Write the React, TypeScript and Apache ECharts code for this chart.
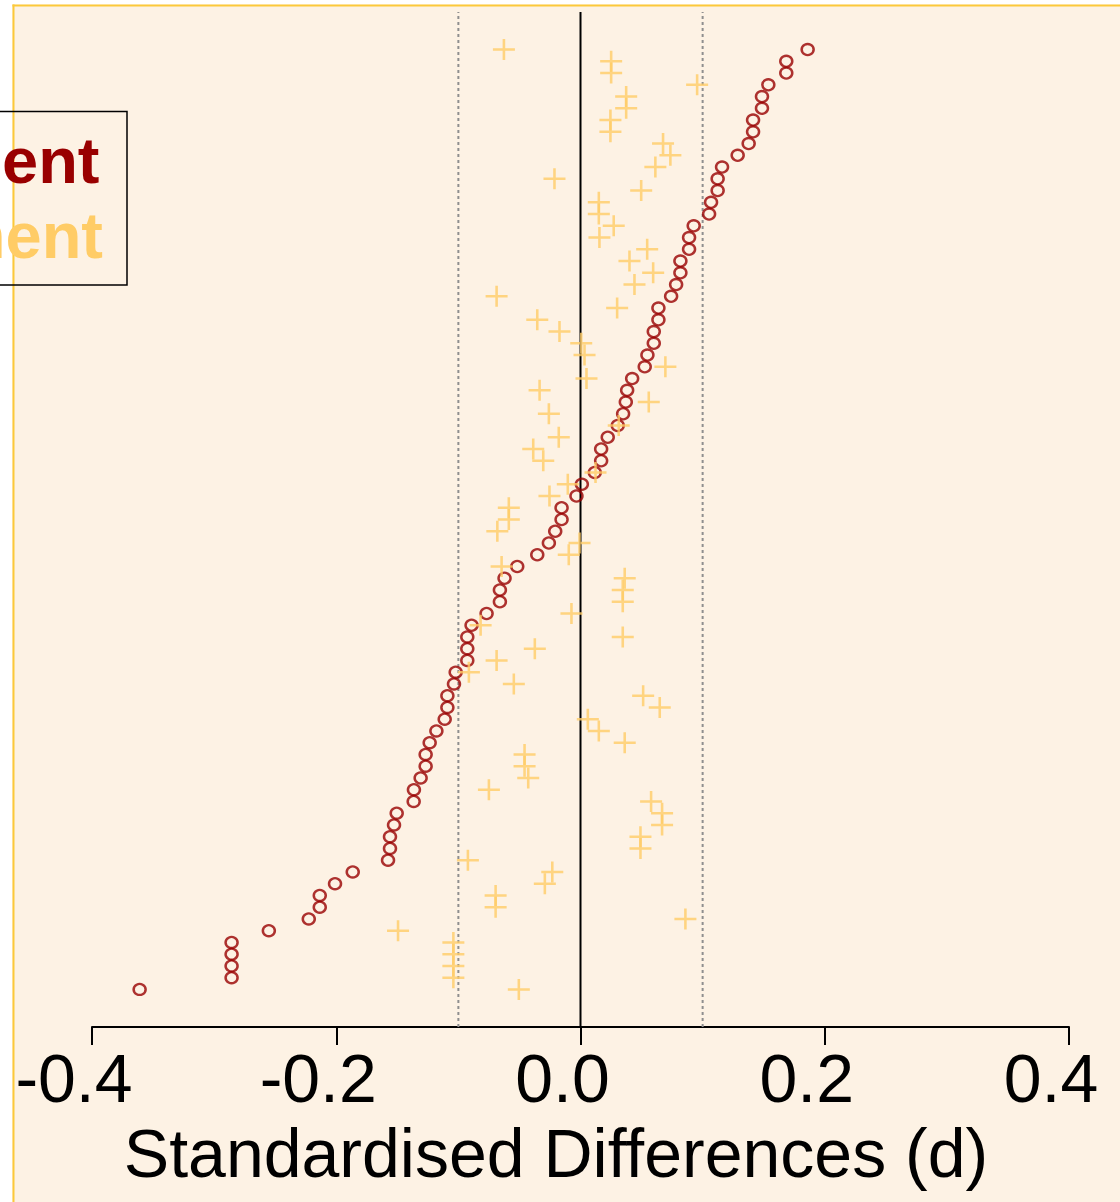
import React, { useEffect, useRef } from "react";
import * as echarts from "echarts";

// Standardised differences, one row per covariate (top row first), sorted by the unadjusted value
const unadjusted: number[] = [
  0.186, 0.1685, 0.1685, 0.1538, 0.1486, 0.1486, 0.1413, 0.1413, 0.1377, 0.1287,
  0.1159, 0.1123, 0.1123, 0.1069, 0.1053, 0.0927, 0.0889, 0.0889, 0.0818, 0.0818,
  0.0783, 0.0742, 0.0638, 0.0638, 0.06, 0.06, 0.0548, 0.0526, 0.0423, 0.0382,
  0.0371, 0.0349, 0.0305, 0.0223, 0.0169, 0.0169, 0.0117, 0.0011, -0.0033, -0.0155,
  -0.0155, -0.0207, -0.0259, -0.0354, -0.0518, -0.0622, -0.066, -0.066, -0.0769, -0.0892,
  -0.0927, -0.0927, -0.0927, -0.1022, -0.1036, -0.109, -0.109, -0.1112, -0.118, -0.1235,
  -0.1268, -0.1268, -0.1309, -0.1364, -0.1366, -0.1505, -0.1527, -0.156, -0.156, -0.1576,
  -0.1865, -0.201, -0.2135, -0.2135, -0.2225, -0.2552, -0.2857, -0.2857, -0.2857, -0.2857,
  -0.361,
];

const adjusted: number[] = [
  -0.0627, 0.0251, 0.0251, 0.0955, 0.0374, 0.0374, 0.0245, 0.0245, 0.0676, 0.0736,
  0.0613, -0.0213, 0.0497, 0.015, 0.015, 0.0272, 0.0155, 0.0546, 0.0401, 0.0595,
  0.0442, -0.0687, 0.03, -0.0354, -0.0172, 0.0006, 0.0033, 0.0695, 0.0049, -0.0335,
  0.0559, -0.0259, 0.0313, -0.0178, -0.0387, -0.0305, 0.0123, -0.0104, -0.0254, -0.0587,
  -0.0587, -0.0681, -0.0008, -0.0096, -0.0646, 0.0362, 0.0346, 0.0346, -0.0074, -0.0818,
  0.0346, -0.0374, -0.0687, -0.0914, -0.0546, 0.0513, 0.0649, 0.006, 0.015, 0.0362,
  -0.0458, -0.0458, -0.0428, -0.075, 0.0578, 0.0668, 0.0668, 0.0491, 0.0491, -0.0922,
  -0.0231, -0.0292, -0.0695, -0.0695, 0.0859, -0.1494, -0.1041, -0.1041, -0.1041, -0.1041,
  -0.0505,
];

const legendLabels: string[] = ["Before Adjustment", "After Adjustment"];
const xTicks: number[] = [-0.4, -0.2, 0.0, 0.2, 0.4];
const referenceLines: number[] = [-0.1, 0.1];
const axisTitle = "Standardised Differences (d)";

const RED = "#990000";
const GOLD = "#FFCC66";
const BG = "#FDF2E4";
const FONT = "'Liberation Sans', Arial, Helvetica, sans-serif";

export default function App() {
  const ref = useRef<HTMLDivElement>(null);

  useEffect(() => {
    if (!ref.current) return;
    const chart = echarts.init(ref.current, undefined, { renderer: "svg" });
    const n = unadjusted.length;
    const yMin = 1 - 0.04 * (n - 1);
    const yMax = n + 0.04 * (n - 1);

    const rowY = (i: number) => n - i;

    const option: any = {
      animation: false,
      backgroundColor: BG,
      grid: { left: 92, right: 51, top: 12, bottom: 175, containLabel: false },
      xAxis: {
        type: "value",
        min: xTicks[0],
        max: xTicks[xTicks.length - 1],
        interval: 0.2,
        position: "bottom",
        splitLine: { show: false },
        axisLine: { show: true, onZero: false, lineStyle: { color: "#000", width: 2 } },
        axisTick: { show: true, length: 18, lineStyle: { color: "#000", width: 2 } },
        axisLabel: {
          fontSize: 68,
          fontFamily: FONT,
          color: "#000",
          margin: 17,
          padding: [0, 36, 0, 0],
          formatter: (v: number) => v.toFixed(1),
        },
        name: axisTitle,
        nameLocation: "middle",
        nameGap: 92,
        nameTextStyle: {
          fontSize: 68,
          fontFamily: FONT,
          color: "#000",
          padding: [0, 49, 0, 0],
        },
      },
      yAxis: {
        type: "value",
        min: yMin,
        max: yMax,
        show: false,
      },
      series: [
        {
          type: "line",
          data: [[0, yMin], [0, yMax]],
          symbol: "none",
          z: 1,
          silent: true,
          lineStyle: { color: "#000", width: 2 },
        },
        ...referenceLines.map((r) => ({
          type: "line",
          data: [[r, yMin], [r, yMax]],
          symbol: "none",
          z: 1,
          silent: true,
          lineStyle: { color: "#8f8f8f", width: 2, type: [3, 3] },
        })),
        {
          name: legendLabels[0],
          type: "scatter",
          data: unadjusted.map((v, i) => [v, rowY(i)]),
          symbol: "circle",
          symbolSize: [12, 11],
          z: 3,
          itemStyle: { color: "transparent", borderColor: RED, borderWidth: 2.4 },
        },
        {
          name: legendLabels[1],
          type: "scatter",
          data: adjusted.map((v, i) => [v, rowY(i)]),
          symbol: "path://M0,-10L0,10M-10,0L10,0",
          symbolSize: [22, 21],
          z: 4,
          itemStyle: { color: "none", borderColor: GOLD, borderWidth: 2.5 },
        },
      ],
      graphic: [
        { type: "rect", silent: true, z: 50, shape: { x: 0, y: 0, width: 12, height: 1202 }, style: { fill: "#fff" } },
        { type: "rect", silent: true, z: 50, shape: { x: 0, y: 0, width: 1120, height: 4.5 }, style: { fill: "#fff" } },
        { type: "line", silent: true, z: 51, shape: { x1: 13.5, y1: 4.5, x2: 13.5, y2: 1202 }, style: { stroke: "#FCC93A", lineWidth: 2 } },
        { type: "line", silent: true, z: 51, shape: { x1: 12.5, y1: 5.5, x2: 1120, y2: 5.5 }, style: { stroke: "#FCC93A", lineWidth: 2 } },
        {
          type: "rect",
          silent: true,
          z: 52,
          shape: { x: -20, y: 111.5, width: 147, height: 173.5 },
          style: { fill: "none", stroke: "#000", lineWidth: 1.5 },
        },
        {
          type: "text",
          silent: true,
          z: 53,
          x: 99.5,
          y: 160.5,
          style: {
            text: legendLabels[0],
            fill: RED,
            font: `bold 65px ${FONT}`,
            align: "right",
            verticalAlign: "middle",
          },
        },
        {
          type: "text",
          silent: true,
          z: 53,
          x: 103,
          y: 235.5,
          style: {
            text: legendLabels[1],
            fill: GOLD,
            font: `bold 65px ${FONT}`,
            align: "right",
            verticalAlign: "middle",
          },
        },
      ],
    };

    chart.setOption(option);
    return () => chart.dispose();
  }, []);

  return (
    <div
      ref={ref}
      style={{ position: "absolute", left: 0, top: 0, width: 1120, height: 1202 }}
    />
  );
}
